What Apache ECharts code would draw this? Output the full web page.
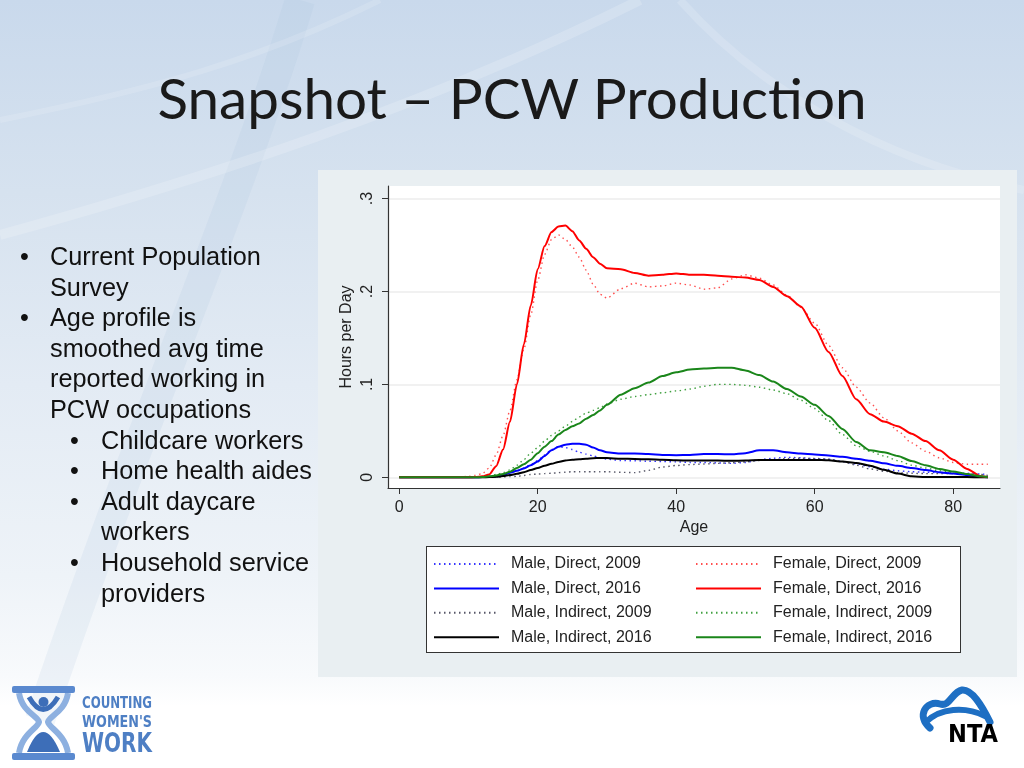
<!DOCTYPE html>
<html>
<head>
<meta charset="utf-8">
<script src="https://cdn.jsdelivr.net/npm/echarts@6/dist/echarts.min.js"></script>
<style>
  html, body { margin: 0; padding: 0; }
  #slide { position: relative; width: 1024px; height: 768px; overflow: hidden;
    background: linear-gradient(to bottom, #c9d9ec 0%, #d6e2ef 25%, #e3ebf4 50%, #eef3f8 75%, #f8fafc 88%, #ffffff 92%); }
  #bg { position: absolute; left: 0; top: 0; }
  #panel { position: absolute; left: 318px; top: 170px; width: 699px; height: 507px; background: #e9eff2; }
  #legendBox { position: absolute; left: 426px; top: 546px; width: 533px; height: 105px; background: #ffffff; border: 1px solid #333; }
  #chart { position: absolute; left: 0; top: 0; width: 1024px; height: 768px; }
  #title { position: absolute; left: 0; top: 63px; width: 1024px; text-align: center; font-family: Lato, "Open Sans", sans-serif; font-size: 56.6px; line-height: 68px; color: #1a1a1a; }
  .ln { position: absolute; font-family: "Liberation Sans", Arial, sans-serif; font-size: 25.3px; line-height: 30px; color: #111; white-space: nowrap; }
  #logos { position: absolute; left: 0; top: 0; }
</style>
</head>
<body>
<div id="slide">
  <svg id="bg" width="1024" height="768">
    <path d="M 300 0 C 240 200 130 450 40 720" stroke="rgba(165,192,222,0.14)" stroke-width="30" fill="none"/>
    <path d="M 0 235 C 200 180 420 110 640 0" stroke="rgba(255,255,255,0.18)" stroke-width="10" fill="none"/>
    <path d="M 680 0 C 760 90 880 160 1024 190" stroke="rgba(255,255,255,0.16)" stroke-width="8" fill="none"/>
    <path d="M 0 120 C 150 90 260 60 380 0" stroke="rgba(255,255,255,0.14)" stroke-width="6" fill="none"/>
  </svg>
  <div id="title">Snapshot – PCW Production</div>
  <div id="panel"></div>
  <div id="legendBox"></div>
  <div id="chart"></div>
  <div id="bullets"></div>
  <svg id="logos" width="1024" height="768">
    <path d="M 19 693 C 22 712 38 716 39 722 C 38 728 22 734 19 753" stroke="#8db0e0" stroke-width="6" fill="none"/>
    <path d="M 68 693 C 65 712 49 716 48 722 C 49 728 65 734 68 753" stroke="#8db0e0" stroke-width="6" fill="none"/>
    <rect x="12" y="686" width="63" height="7" rx="2" fill="#5a89cf"/>
    <rect x="12" y="753" width="63" height="7" rx="2" fill="#5a89cf"/>
    <circle cx="43.5" cy="702" r="5" fill="#3d6eb8"/>
    <path d="M 29 697 Q 43 722 58 697" stroke="#3d6eb8" stroke-width="5" fill="none"/>
    <path d="M 27 752 Q 43 712 60 752 Z" fill="#3d6eb8"/>
    <text x="82" y="708" font-family="'DejaVu Sans Condensed','DejaVu Sans',sans-serif" font-weight="bold" font-size="16" fill="#4e7fc4" textLength="70" lengthAdjust="spacingAndGlyphs">COUNTING</text>
    <text x="82" y="727" font-family="'DejaVu Sans Condensed','DejaVu Sans',sans-serif" font-weight="bold" font-size="16" fill="#4e7fc4" textLength="70" lengthAdjust="spacingAndGlyphs">WOMEN'S</text>
    <text x="82" y="752" font-family="'DejaVu Sans Condensed','DejaVu Sans',sans-serif" font-weight="bold" font-size="27" fill="#4e7fc4" textLength="70" lengthAdjust="spacingAndGlyphs">WORK</text>
    <path d="M 930 728 C 916 716 926 700 940 704 C 950 707 952 692 962 690 C 972 689 982 706 990 722" stroke="#1e6fc3" stroke-width="7" fill="none" stroke-linecap="round"/>
    <path d="M 926 722 C 940 708 965 706 985 716" stroke="#1e6fc3" stroke-width="6" fill="none" stroke-linecap="round"/>
    <text x="948" y="742" font-family="'DejaVu Sans',sans-serif" font-weight="bold" font-size="24" fill="#000" textLength="50" lengthAdjust="spacingAndGlyphs">NTA</text>
  </svg>
</div>
<script>
// ---- bullet text ----
const bulletLines = [
  { b: 20, x: 50, t: 'Current Population' },
  { b: null, x: 50, t: 'Survey' },
  { b: 20, x: 50, t: 'Age profile is' },
  { b: null, x: 50, t: 'smoothed avg time' },
  { b: null, x: 50, t: 'reported working in' },
  { b: null, x: 50, t: 'PCW occupations' },
  { b: 70, x: 101, t: 'Childcare workers' },
  { b: 70, x: 101, t: 'Home health aides' },
  { b: 70, x: 101, t: 'Adult daycare' },
  { b: null, x: 101, t: 'workers' },
  { b: 70, x: 101, t: 'Household service' },
  { b: null, x: 101, t: 'providers' }
];

// ---- chart data ----
const ages = [0,4,8,10,11,12,13,14,15,16,17,18,19,20,21,22,23,24,25,26,27,28,29,30,32,34,36,38,40,42,44,46,48,50,52,54,56,58,60,62,64,66,68,70,72,74,76,78,80,82,84,85];

const maleDirect2009 = [0,0,0,0,0,0.0002,0.0005,0.001,0.003,0.005,0.007,0.010,0.014,0.018,0.024,0.030,0.033,0.032,0.030,0.027,0.025,0.023,0.021,0.0195,0.018,0.0178,0.0173,0.017,0.0166,0.016,0.016,0.0155,0.015,0.016,0.019,0.0205,0.0215,0.021,0.020,0.0195,0.017,0.0145,0.0114,0.0088,0.007,0.006,0.0055,0.005,0.0045,0.0043,0.0035,0.003];
const maleDirect2016 = [0,0,0,0,0,0.0002,0.0005,0.001,0.0025,0.005,0.007,0.0095,0.013,0.017,0.023,0.029,0.033,0.035,0.036,0.036,0.035,0.032,0.029,0.027,0.0255,0.0255,0.025,0.024,0.0238,0.024,0.025,0.025,0.0248,0.026,0.029,0.029,0.027,0.0255,0.0245,0.0235,0.022,0.020,0.0178,0.015,0.0123,0.010,0.0078,0.0055,0.004,0.0025,0.0005,0];
const maleIndirect2009 = [0,0,0,0,0,0,0,0.0002,0.0004,0.0007,0.001,0.002,0.003,0.0035,0.004,0.0043,0.005,0.0055,0.006,0.006,0.006,0.006,0.006,0.006,0.0054,0.005,0.0075,0.011,0.0127,0.0137,0.0143,0.015,0.0157,0.0165,0.018,0.019,0.020,0.0205,0.0203,0.0195,0.017,0.013,0.009,0.0065,0.005,0.0043,0.004,0.004,0.004,0.0038,0.003,0.002];
const maleIndirect2016 = [0,0,0,0,0,0,0.0002,0.0005,0.0014,0.0025,0.0037,0.0055,0.0078,0.010,0.0125,0.0145,0.0165,0.018,0.019,0.0195,0.020,0.0205,0.0208,0.0207,0.020,0.0197,0.0194,0.019,0.0184,0.018,0.018,0.018,0.0178,0.018,0.0185,0.0187,0.0187,0.0187,0.0187,0.0183,0.017,0.0155,0.0125,0.008,0.004,0.001,0.0003,0.0002,0.0002,0.0002,0.0001,0];
const femaleDirect2009 = [0,0,0,0.001,0.002,0.004,0.010,0.024,0.045,0.072,0.105,0.138,0.175,0.212,0.240,0.256,0.261,0.256,0.248,0.237,0.223,0.208,0.197,0.193,0.203,0.209,0.205,0.206,0.209,0.207,0.2025,0.204,0.2135,0.218,0.2145,0.207,0.196,0.183,0.166,0.142,0.118,0.097,0.080,0.064,0.050,0.037,0.028,0.021,0.016,0.014,0.014,0.014];
const femaleDirect2016 = [0,0,0,0,0.0003,0.001,0.003,0.012,0.030,0.060,0.100,0.143,0.185,0.224,0.249,0.264,0.270,0.271,0.265,0.255,0.246,0.237,0.230,0.225,0.224,0.220,0.217,0.218,0.2195,0.218,0.218,0.217,0.216,0.215,0.2125,0.205,0.195,0.184,0.161,0.135,0.109,0.084,0.068,0.060,0.055,0.047,0.039,0.029,0.019,0.009,0.001,0];
const femaleIndirect2009 = [0,0,0,0,0,0.0005,0.001,0.003,0.005,0.008,0.013,0.019,0.026,0.032,0.039,0.045,0.050,0.055,0.060,0.065,0.069,0.072,0.075,0.079,0.084,0.087,0.089,0.091,0.093,0.095,0.098,0.100,0.100,0.099,0.097,0.094,0.090,0.083,0.074,0.061,0.046,0.034,0.028,0.023,0.018,0.013,0.010,0.007,0.005,0.003,0.001,0];
const femaleIndirect2016 = [0,0,0,0,0,0.0003,0.001,0.002,0.0035,0.006,0.010,0.014,0.019,0.026,0.033,0.039,0.046,0.051,0.055,0.058,0.063,0.067,0.072,0.078,0.089,0.096,0.102,0.109,0.113,0.116,0.117,0.118,0.118,0.115,0.110,0.103,0.095,0.087,0.078,0.066,0.052,0.038,0.029,0.027,0.023,0.0175,0.013,0.009,0.0063,0.0035,0.001,0];

const xTicks = [0, 20, 40, 60, 80];
const yTicks = [0, 0.1, 0.2, 0.3];
const xLabel = 'Age';
const yLabel = 'Hours per Day';

const seriesNames = ['Male, Direct, 2009','Male, Direct, 2016','Male, Indirect, 2009','Male, Indirect, 2016',
                     'Female, Direct, 2009','Female, Direct, 2016','Female, Indirect, 2009','Female, Indirect, 2016'];
const seriesValues = [maleDirect2009, maleDirect2016, maleIndirect2009, maleIndirect2016,
                      femaleDirect2009, femaleDirect2016, femaleIndirect2009, femaleIndirect2016];

// ---- bullets rendering ----
(function () {
  const host = document.getElementById('bullets');
  bulletLines.forEach((l, i) => {
    const top = 241 + i * 30.6;
    if (l.b !== null) {
      const d = document.createElement('div');
      d.className = 'ln'; d.style.left = l.b + 'px'; d.style.top = top + 'px'; d.textContent = '•';
      host.appendChild(d);
    }
    const t = document.createElement('div');
    t.className = 'ln'; t.style.left = l.x + 'px'; t.style.top = top + 'px'; t.textContent = l.t;
    host.appendChild(t);
  });
})();

// ---- chart ----
const styles = [
  { color: '#3535ff', type: [1.5, 3.5], width: 1.4 },
  { color: '#0000ff', type: 'solid', width: 2 },
  { color: '#555566', type: [1.5, 3.5], width: 1.4 },
  { color: '#000000', type: 'solid', width: 2 },
  { color: '#ff5050', type: [1.5, 3.5], width: 1.4 },
  { color: '#ff0000', type: 'solid', width: 2 },
  { color: '#40a040', type: [1.5, 3.5], width: 1.4 },
  { color: '#1a861a', type: 'solid', width: 2 }
];

const FONT = '"Liberation Sans", Arial, sans-serif';
const chart = echarts.init(document.getElementById('chart'), null, { renderer: 'canvas' });

const series = seriesNames.map((name, k) => ({
  name: name,
  type: 'line',
  data: ages.map((a, i) => [a, seriesValues[k][i]]),
  symbol: 'none',
  showSymbol: false,
  smooth: 0.25,
  smoothMonotone: 'x',
  z: styles[k].type === 'solid' ? 3 : 2,
  color: styles[k].color,
  lineStyle: { color: styles[k].color, type: styles[k].type, width: styles[k].width },
  emphasis: { disabled: true },
  animation: false
}));

const legendCommon = {
  orient: 'vertical',
  top: 556,
  padding: 0,
  itemWidth: 65,
  itemHeight: 14,
  itemGap: 8.4,
  selectedMode: false,
  itemStyle: { opacity: 0, borderWidth: 0 },
  textStyle: { fontFamily: FONT, fontSize: 16, lineHeight: 16, color: '#222', padding: [0, 0, 0, 7] }
};

chart.setOption({
  animation: false,
  backgroundColor: 'transparent',
  grid: { left: 388, top: 186, width: 612, height: 302, show: true, backgroundColor: '#ffffff', borderWidth: 0 },
  legend: [
    Object.assign({}, legendCommon, { left: 433, data: seriesNames.slice(0, 4) }),
    Object.assign({}, legendCommon, { left: 695, data: seriesNames.slice(4, 8) })
  ],
  xAxis: {
    type: 'value',
    min: -1.617, max: 86.76,
    name: xLabel, nameLocation: 'middle', nameGap: 32, nameMoveOverlap: false,
    nameTextStyle: { fontFamily: FONT, fontSize: 16, color: '#222' },
    axisLine: { show: true, onZero: false, lineStyle: { color: '#333', width: 1.2 } },
    axisTick: { show: true, length: 6, customValues: xTicks, lineStyle: { color: '#333' } },
    axisLabel: { customValues: xTicks, fontFamily: FONT, fontSize: 16, color: '#222', margin: 12 },
    splitLine: { show: false }
  },
  yAxis: {
    type: 'value',
    min: -0.01152, max: 0.3136,
    name: yLabel, nameLocation: 'middle', nameGap: 33, nameMoveOverlap: false,
    nameTextStyle: { fontFamily: FONT, fontSize: 16, color: '#222' },
    axisLine: { show: true, onZero: false, lineStyle: { color: '#333', width: 1.2 } },
    axisTick: { show: true, length: 6, customValues: yTicks, lineStyle: { color: '#333' } },
    axisLabel: {
      customValues: yTicks, rotate: 90, fontFamily: FONT, fontSize: 16, color: '#222', margin: 12,
      formatter: v => (v === 0 ? '0' : String(+v.toFixed(2)).replace(/^0\./, '.'))
    },
    splitLine: { show: true, lineStyle: { color: '#ececec', width: 1.5 } }
  },
  series: series
});
</script>
</body>
</html>
